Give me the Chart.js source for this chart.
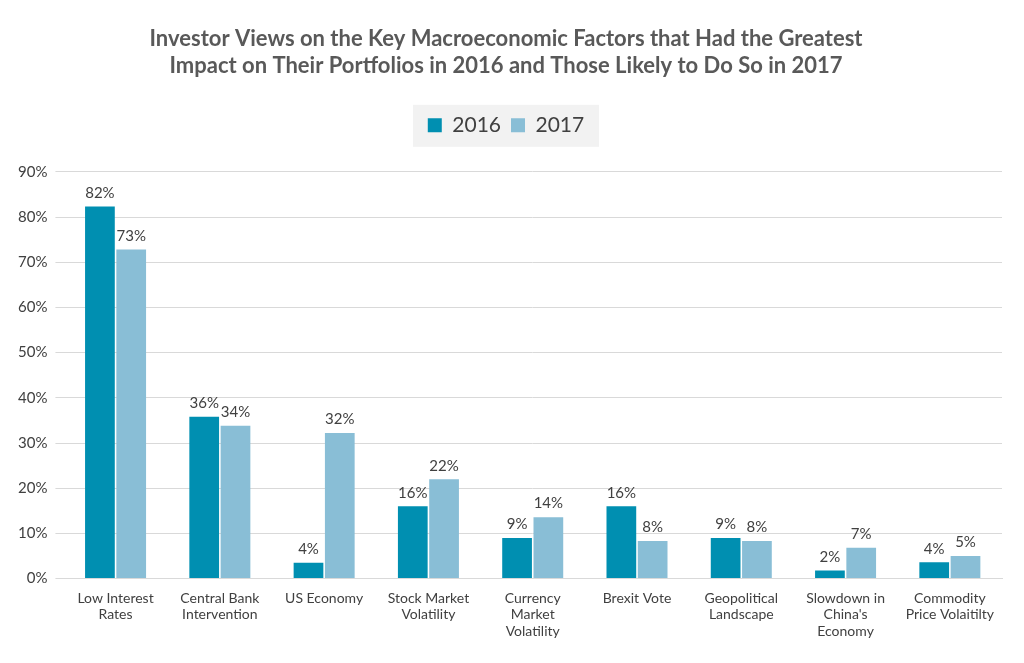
<!DOCTYPE html>
<html><head><meta charset="utf-8">
<script src="https://cdn.jsdelivr.net/npm/chart.js@4"></script>
<style>html,body{margin:0;background:#fff}#wrap{width:1024px;height:663px}</style>
</head><body><div id="wrap"><canvas id="c"></canvas></div>
<script>
const categories = [
  ['Low Interest', 'Rates'], ['Central Bank', 'Intervention'], ['US Economy'],
  ['Stock Market', 'Volatility'], ['Currency', 'Market', 'Volatility'], ['Brexit Vote'],
  ['Geopolitical', 'Landscape'], ['Slowdown in', "China's", 'Economy'], ['Commodity', 'Price Volaitilty']
];
const values2016 = [82.3, 35.8, 3.5, 16, 9, 16, 9, 1.8, 3.6];
const values2017 = [72.8, 33.8, 32.2, 22, 13.6, 8.3, 8.3, 6.8, 5];
const labels2016 = ['82%', '36%', '4%', '16%', '9%', '16%', '9%', '2%', '4%'];
const labels2017 = ['73%', '34%', '32%', '22%', '14%', '8%', '8%', '7%', '5%'];

const barLabels = {
  id: 'barLabels',
  afterDatasetsDraw(chart) {
    const ctx = chart.ctx;
    ctx.save();
    ctx.font = '15px Lato';
    ctx.fillStyle = '#404040';
    ctx.textAlign = 'center';
    ctx.textBaseline = 'bottom';
    const texts = [labels2016, labels2017];
    chart.data.datasets.forEach((ds, i) => {
      chart.getDatasetMeta(i).data.forEach((bar, j) => {
        ctx.fillText(texts[i][j], bar.x, bar.y - 6);
      });
    });
    ctx.restore();
  }
};
const legendBg = {
  id: 'legendBg',
  afterInit(chart) {
    const l = chart.legend;
    const fit = l.fit;
    l.fit = function () { fit.call(this); this.height += 26; };
  },
  beforeDraw(chart) {
    const l = chart.legend;
    const ctx = chart.ctx;
    ctx.save();
    ctx.fillStyle = '#f2f2f2';
    ctx.fillRect(l.left + (l.width - 186) / 2, l.top, 186, 42);
    ctx.restore();
  }
};

new Chart(document.getElementById('c'), {
  type: 'bar',
  data: {
    labels: categories,
    datasets: [
      { label: '2016', data: values2016, backgroundColor: '#008fb1' },
      { label: '2017', data: values2017, backgroundColor: '#89bed6' }
    ]
  },
  options: {
    responsive: true,
    maintainAspectRatio: false,
    animation: false,
    layout: { padding: { left: 10, right: 22, top: 10, bottom: 20 } },
    datasets: { bar: { categoryPercentage: 0.6, barPercentage: 0.95 } },
    plugins: {
      title: {
        display: true,
        text: ['Investor Views on the Key Macroeconomic Factors that Had the Greatest',
               'Impact on Their Portfolios in 2016 and Those Likely to Do So in 2017'],
        color: '#595959',
        font: { family: 'Lato', size: 22, weight: 'bold' },
        lineHeight: 1.35,
        padding: { top: 16, bottom: 26 }
      },
      legend: {
        labels: {
          color: '#404040', font: { family: 'Lato', size: 21 },
          boxWidth: 14, boxHeight: 14, padding: 10
        }
      },
      tooltip: { enabled: false }
    },
    scales: {
      x: {
        grid: { display: false },
        border: { color: '#d9d9d9' },
        ticks: { color: '#404040', font: { family: 'Lato', size: 14 }, maxRotation: 0, autoSkip: false }
      },
      y: {
        min: 0, max: 90,
        border: { display: false },
        grid: { color: '#d9d9d9' },
        ticks: { stepSize: 10, color: '#404040', font: { family: 'Lato', size: 15 }, callback: v => v + '%', padding: 8 }
      }
    }
  },
  plugins: [barLabels, legendBg]
});
</script></body></html>
